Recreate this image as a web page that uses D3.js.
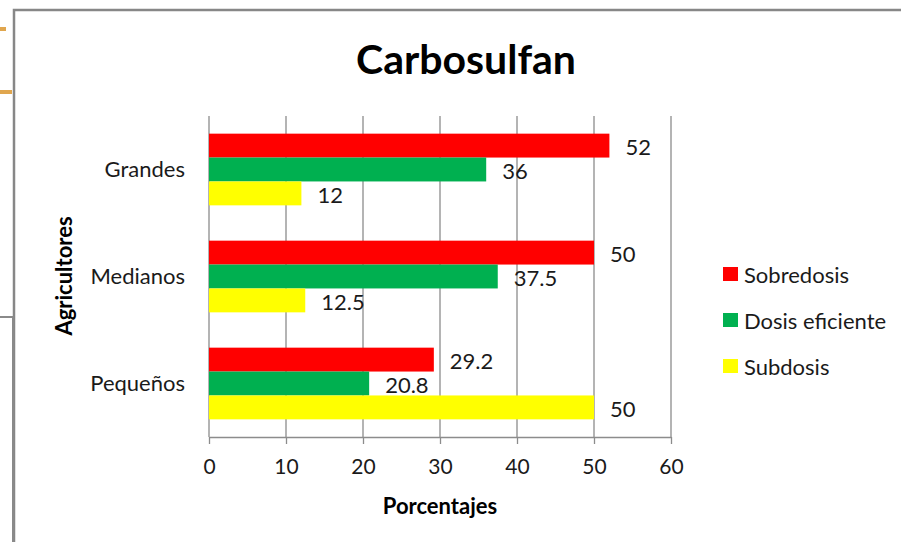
<!DOCTYPE html>
<html>
<head>
<meta charset="utf-8">
<script src="https://cdn.jsdelivr.net/npm/d3@7"></script>
<style>
  body { margin: 0; background: #fff; }
  svg { display: block; font-family: Lato, "Open Sans", sans-serif; }
  .grid line { stroke: #8c8c8c; stroke-width: 1.3; }
  .axis path, .axis line { stroke: #8c8c8c; stroke-width: 1.3; }
</style>
</head>
<body>
<div class="main-container"></div>
<script>
const categories = ["Grandes", "Medianos", "Pequeños"];
const seriesNames = ["Sobredosis", "Dosis eficiente", "Subdosis"];
const sobredosis = [52, 50, 29.2];
const dosisEficiente = [36, 37.5, 20.8];
const subdosis = [12, 12.5, 50];
const xTicks = [0, 10, 20, 30, 40, 50, 60];
const colors = ["#ff0000", "#00b050", "#ffff00"];

let width = 901, height = 542;
let margin = {top: 116, left: 209},
  plotW = 462,
  plotH = 321;

const root = d3.select(".main-container")
  .append("svg")
  .attr("width", width)
  .attr("height", height);

// frame of the slide behind the chart
root.append("rect")
  .attr("x", 14).attr("y", 10)
  .attr("width", 900).attr("height", 600)
  .attr("fill", "#fff")
  .attr("stroke", "#878787")
  .attr("stroke-width", 2.5);

root.append("path")
  .attr("d", "M0,317 H13 V542")
  .attr("fill", "none")
  .attr("stroke", "#8a8a8a")
  .attr("stroke-width", 2);

root.append("path")
  .attr("d", "M0,29 H6 M0,92 H12")
  .attr("stroke", "#e0a64e")
  .attr("stroke-width", 4);

root.append("text")
  .attr("x", 466).attr("y", 74)
  .attr("text-anchor", "middle")
  .attr("font-size", 41)
  .attr("font-weight", "bold")
  .attr("fill", "#000")
  .text("Carbosulfan");

const svg = root.append("g")
  .attr("transform", "translate(" + margin.left + "," + margin.top + ")");

let x = d3.scaleLinear()
  .domain([0, 60])
  .range([0, plotW]);

let y = d3.scaleBand()
  .domain(categories)
  .range([0, plotH])
  .paddingInner(0.33)
  .paddingOuter(0.165);

let yInner = d3.scaleBand()
  .domain(seriesNames)
  .range([0, y.bandwidth()]);

svg.append("g")
  .classed("grid", true)
  .selectAll("line")
  .data(xTicks)
  .join("line")
  .attr("x1", d => x(d)).attr("x2", d => x(d))
  .attr("y1", 0).attr("y2", plotH);

svg.append("g")
  .classed("axis", true)
  .attr("transform", "translate(0," + plotH + ")")
  .call(d3.axisBottom(x).tickValues(xTicks).tickSize(7).tickSizeOuter(0).tickPadding(15))
  .selectAll("text")
  .attr("font-size", 21)
  .attr("font-family", "Lato, 'Open Sans', sans-serif")
  .attr("fill", "#1a1a1a");

svg.append("g")
  .classed("axis", true)
  .call(d3.axisLeft(y).tickSize(0).tickPadding(24))
  .call(g => g.select(".domain").remove())
  .selectAll("text")
  .attr("font-size", 22)
  .attr("font-family", "Lato, 'Open Sans', sans-serif")
  .attr("fill", "#1a1a1a");

const series = [sobredosis, dosisEficiente, subdosis];
const rows = [];
series.forEach((vals, s) => {
  vals.forEach((v, i) => rows.push({cat: categories[i], name: seriesNames[s], value: v, color: colors[s]}));
});

svg.append("g")
  .selectAll("rect")
  .data(rows)
  .join("rect")
  .attr("x", 0)
  .attr("y", d => y(d.cat) + yInner(d.name))
  .attr("width", d => x(d.value))
  .attr("height", yInner.bandwidth())
  .attr("fill", d => d.color);

svg.append("g")
  .selectAll("text")
  .data(rows)
  .join("text")
  .attr("x", d => x(d.value) + 16)
  .attr("y", d => y(d.cat) + yInner(d.name) + yInner.bandwidth() / 2 + 2)
  .attr("dy", ".35em")
  .attr("font-size", 22)
  .attr("fill", "#1a1a1a")
  .text(d => d.value);

// axis titles
root.append("text")
  .attr("x", 440).attr("y", 514)
  .attr("text-anchor", "middle")
  .attr("font-size", 22)
  .attr("font-weight", "bold")
  .text("Porcentajes");

root.append("text")
  .attr("transform", "translate(72,276)rotate(-90)")
  .attr("text-anchor", "middle")
  .attr("font-size", 22)
  .attr("font-weight", "bold")
  .text("Agricultores");

// legend
const legend = root.append("g")
  .selectAll("g")
  .data(seriesNames)
  .join("g")
  .attr("transform", (d, i) => "translate(723," + (267 + i * 46) + ")");

legend.append("rect")
  .attr("width", 15).attr("height", 14)
  .attr("fill", (d, i) => colors[i]);

legend.append("text")
  .attr("x", 21).attr("y", 8)
  .attr("dy", ".35em")
  .attr("font-size", 22)
  .attr("fill", "#1a1a1a")
  .text(d => d);
</script>
</body>
</html>
